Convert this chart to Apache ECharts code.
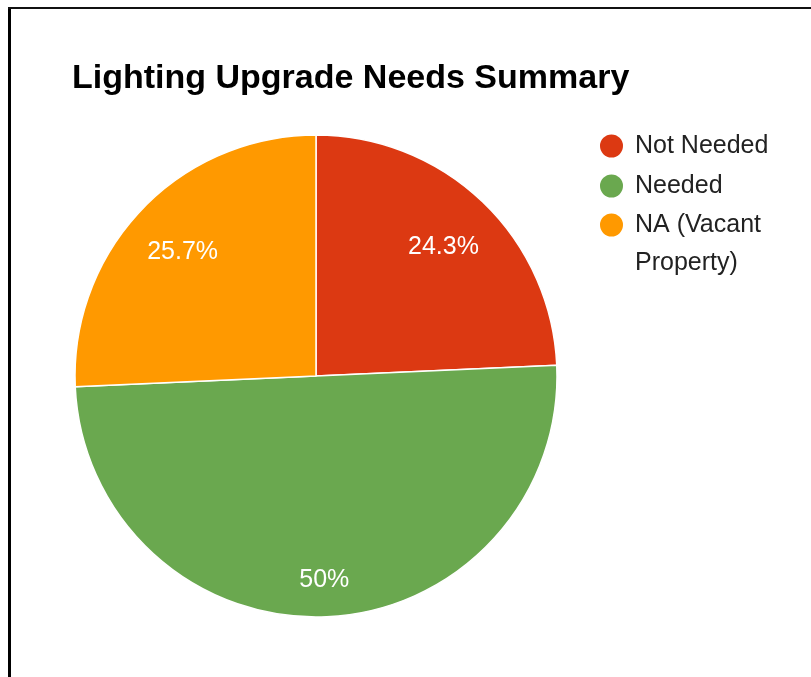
<!DOCTYPE html>
<html>
<head>
<meta charset="utf-8">
<title>Lighting Upgrade Needs Summary</title>
<script src="https://cdn.jsdelivr.net/npm/echarts@6/dist/echarts.min.js"></script>
<style>
  html, body { margin: 0; padding: 0; background: #fff; }
  #chart { width: 811px; height: 677px; }
</style>
</head>
<body>
<div id="chart"></div>
<script>
// Survey counts per lighting status
const categories = ['Not Needed', 'Needed', 'NA (Vacant Property)'];
const counts = [17, 35, 18];
const colors = ['#dc3912', '#6aa84f', '#ff9900'];
const titleText = 'Lighting Upgrade Needs Summary';

const FONT = 'Arial, "Liberation Sans", Helvetica, sans-serif';

const sliceData = categories.map((name, i) => ({
  name,
  value: counts[i],
  itemStyle: { color: colors[i] }
}));

// Label layer: same values, transparent fill, labels sit at ~3/4 of the radius
const labelData = categories.map((name, i) => ({ name, value: counts[i] }));

const legendText = {
  fontFamily: FONT,
  fontSize: 25,
  color: '#222',
  lineHeight: 38,
  width: 150,
  overflow: 'break',
  padding: [0, 0, 0, 6]
};

const chart = echarts.init(document.getElementById('chart'), null, { renderer: 'canvas' });

chart.setOption({
  animation: false,
  backgroundColor: '#fff',
  title: {
    text: titleText,
    left: 72,
    top: 62,
    padding: 0,
    textStyle: { fontFamily: FONT, fontSize: 34, fontWeight: 'bold', color: '#000' }
  },
  legend: [
    {
      orient: 'vertical',
      left: 598,
      top: 127,
      padding: 0,
      itemGap: 2,
      itemWidth: 25,
      itemHeight: 25,
      icon: 'circle',
      selectedMode: false,
      data: categories.slice(0, 2),
      textStyle: legendText
    },
    {
      // wrapped entry: an empty leading line keeps the first text line level with its marker
      orient: 'vertical',
      left: 598,
      top: 168,
      padding: 0,
      itemWidth: 25,
      itemHeight: 25,
      icon: 'circle',
      selectedMode: false,
      data: categories.slice(2),
      formatter: (name) => '\n' + name,
      textStyle: legendText
    }
  ],
  graphic: [
    { type: 'line', shape: { x1: 9.5, y1: 7, x2: 9.5, y2: 677 }, style: { stroke: '#000', lineWidth: 3 } },
    { type: 'line', shape: { x1: 8, y1: 8, x2: 811, y2: 8 }, style: { stroke: '#111', lineWidth: 2 } }
  ],
  series: [
    {
      name: 'Lighting',
      type: 'pie',
      center: [316, 376],
      radius: [0, 241],
      startAngle: 90,
      clockwise: true,
      label: { show: false },
      labelLine: { show: false },
      itemStyle: { borderColor: '#fff', borderWidth: 1.5 },
      emphasis: { disabled: true },
      data: sliceData
    },
    {
      name: 'Labels',
      type: 'pie',
      center: [316, 376],
      radius: [122, 241],
      startAngle: 90,
      clockwise: true,
      silent: true,
      percentPrecision: 1,
      itemStyle: { color: 'rgba(0,0,0,0)', borderWidth: 0 },
      emphasis: { disabled: true },
      label: {
        show: true,
        position: 'inside',
        formatter: '{d}%',
        fontFamily: FONT,
        fontSize: 25,
        color: '#fff',
        textBorderWidth: 0
      },
      labelLine: { show: false },
      labelLayout: function (params) {
        return { dy: params.dataIndex === 1 ? 20 : 4 };
      },
      data: labelData
    }
  ]
});
</script>
</body>
</html>
